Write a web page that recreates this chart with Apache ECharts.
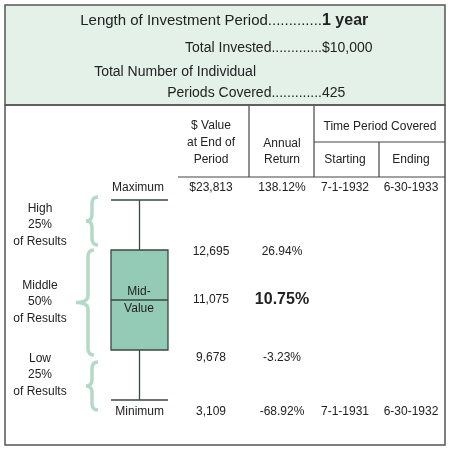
<!DOCTYPE html>
<html>
<head>
<meta charset="utf-8">
<script src="https://cdn.jsdelivr.net/npm/echarts@6/dist/echarts.min.js"></script>
<style>html,body{margin:0;padding:0;background:#fff}#root{width:450px;height:450px}</style>
</head>
<body>
<div id="root"></div>
<script>
// summary of the 425 one-year periods
var rowNames = ['Maximum', '', '', '', 'Minimum'];
var endValues = ['$23,813', '12,695', '11,075', '9,678', '3,109'];
var annualReturns = ['138.12%', '26.94%', '10.75%', '-3.23%', '-68.92%'];
var startDates = ['7-1-1932', '', '', '', '7-1-1931'];
var endDates = ['6-30-1933', '', '', '', '6-30-1932'];
// box drawn on a percentile scale: min, Q1, median, Q3, max
var percentiles = [0, 25, 50, 75, 100];

var F = 'Liberation Sans, Arial, sans-serif';
var rowY = [188, 252, 300, 358, 412];
var colX = [211, 282, 345, 411];

function txt(x, y, s, opt) {
  opt = opt || {};
  return { type: 'text', x: x, y: y, z: 10, style: {
    text: s, fill: '#222', font: (opt.bold ? 'bold ' : '') + (opt.size || 12) + 'px ' + F,
    textAlign: opt.align || 'center', textVerticalAlign: 'middle' } };
}
function line(x1, y1, x2, y2) {
  return { type: 'line', z: 10, shape: { x1: x1, y1: y1, x2: x2, y2: y2 }, style: { stroke: '#444', lineWidth: 1.2 } };
}
function quad(pts, p0, c, p1) {
  for (var t = 0; t <= 1.0001; t += 0.125) {
    var a = (1 - t) * (1 - t), b = 2 * (1 - t) * t, d = t * t;
    pts.push([a * p0[0] + b * c[0] + d * p1[0], a * p0[1] + b * c[1] + d * p1[1]]);
  }
}
function brace(x, y1, y2, xt) {
  var ym = (y1 + y2) / 2, r = 7, w = 6, pts = [];
  quad(pts, [x + w, y1], [x, y1], [x, y1 + r]);
  quad(pts, [x, ym - r], [x, ym], [xt, ym]);
  quad(pts, [xt, ym], [x, ym], [x, ym + r]);
  quad(pts, [x, y2 - r], [x, y2], [x + w, y2]);
  return { type: 'polyline', z: 5, shape: { points: pts }, style: { fill: null, stroke: '#b3d9c8', lineWidth: 3.5 } };
}

var g = [];
g.push({ type: 'rect', z: 1, shape: { x: 5, y: 5, width: 440, height: 100 }, style: { fill: '#e4f1e9', stroke: '#555', lineWidth: 1.5 } });
g.push({ type: 'rect', z: 1, shape: { x: 5, y: 105, width: 440, height: 340 }, style: { fill: 'rgba(0,0,0,0)', stroke: '#555', lineWidth: 1.5 } });
g.push(txt(322, 21, 'Length of Investment Period.............', { align: 'right', size: 15 }));
g.push(txt(322, 21, '1 year', { align: 'left', size: 16, bold: true }));
g.push(txt(322, 48, 'Total Invested.............', { align: 'right', size: 14 }));
g.push(txt(322, 48, '$10,000', { align: 'left', size: 14 }));
g.push(txt(256, 72, 'Total Number of Individual', { align: 'right', size: 14 }));
g.push(txt(322, 93, 'Periods Covered.............', { align: 'right', size: 14 }));
g.push(txt(322, 93, '425', { align: 'left', size: 14 }));

g.push(line(249, 106, 249, 177), line(314, 106, 314, 177), line(314, 142, 445, 142),
  line(379, 142, 379, 177), line(178, 177, 445, 177));
g.push(txt(211, 126, '$ Value'), txt(211, 143, 'at End of'), txt(211, 160, 'Period'));
g.push(txt(282, 144, 'Annual'), txt(282, 160, 'Return'));
g.push(txt(380, 127, 'Time Period Covered'), txt(345, 160, 'Starting'), txt(411, 160, 'Ending'));

for (var i = 0; i < rowY.length; i++) {
  if (rowNames[i]) g.push(txt(164, rowY[i], rowNames[i], { align: 'right' }));
  g.push(txt(colX[0], rowY[i], endValues[i]));
  g.push(i === 2 ? txt(colX[1], rowY[i], annualReturns[i], { size: 16, bold: true }) : txt(colX[1], rowY[i], annualReturns[i]));
  if (startDates[i]) g.push(txt(colX[2], rowY[i], startDates[i]));
  if (endDates[i]) g.push(txt(colX[3], rowY[i], endDates[i]));
}
g.push(txt(139, 292, 'Mid-'), txt(139, 309, 'Value'));

var groups = [['High', 209], ['Middle', 286], ['Low', 359]];
groups.forEach(function (gr) {
  g.push(txt(40, gr[1], gr[0]), txt(40, gr[1] + 16, gr[0] === 'Middle' ? '50%' : '25%'), txt(40, gr[1] + 33, 'of Results'));
});
g.push(brace(92, 197, 245, 86), brace(88, 250, 355, 76), brace(92, 362, 410, 86));

var chart = echarts.init(document.getElementById('root'));
chart.setOption({
  animation: false,
  grid: { left: 111, width: 57, top: 200, height: 200 },
  xAxis: { type: 'category', data: ['1 year'], show: false },
  yAxis: { type: 'value', min: 0, max: 100, show: false },
  series: [{
    type: 'boxplot',
    boxWidth: ['100%', '100%'],
    data: [percentiles],
    itemStyle: { color: '#94cbb6', borderColor: '#3b4843', borderWidth: 1.3 }
  }],
  graphic: g
});
</script>
</body>
</html>
